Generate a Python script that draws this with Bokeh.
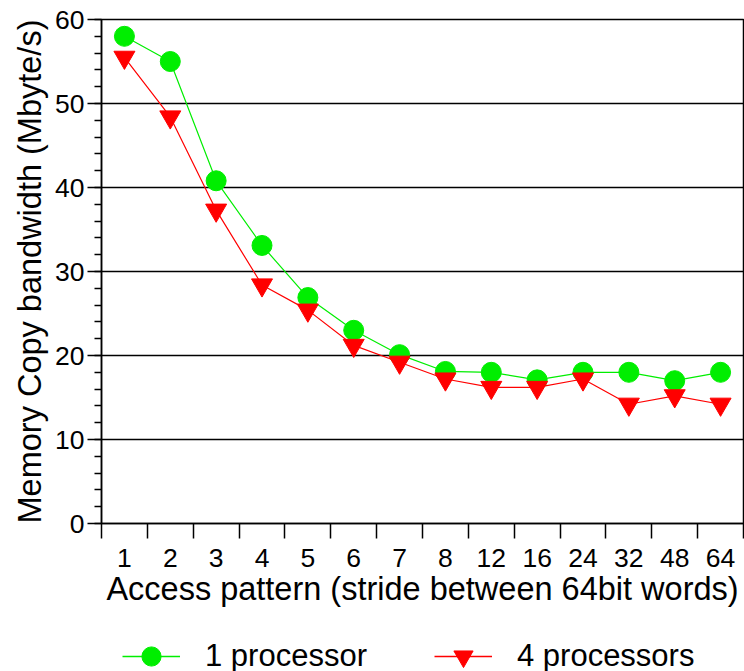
import numpy as np
from bokeh.plotting import figure
from bokeh.layouts import column
from bokeh.models import (Range1d, FixedTicker, SingleIntervalTicker, Legend, LegendItem,
                          ColumnDataSource)
from bokeh.embed import file_html
from bokeh.resources import INLINE

categories = ["1", "2", "3", "4", "5", "6", "7", "8", "12", "16", "24", "32", "48", "64"]
one_processor = [58, 55, 40.8, 33.1, 26.9, 23, 20.1, 18.1, 18, 17.1, 18, 18, 17, 18]
four_processors = [55.5, 48.4, 37.3, 28.4, 25.4, 21.2, 19.2, 17.2, 16.2, 16.2, 17.2, 14.2, 15.2, 14.2]
series_labels = ["1 processor", "4 processors"]
y_ticks_interval = 10

FONT = "Liberation Sans"
GREEN = "#00ee00"
RED = "#ff0000"
xpos = np.arange(len(categories)) + 0.5

H1 = 625
p = figure(width=744, height=H1, output_backend="svg", toolbar_location=None,
           x_range=Range1d(0, len(categories)), y_range=Range1d(0, 60),
           min_border_left=101, min_border_right=1, min_border_top=19,
           min_border_bottom=H1 - 523)
p.background_fill_color = "white"
p.border_fill_color = "white"
p.outline_line_color = "black"
p.outline_line_width = 1.5

# x axis
xa = p.xaxis[0]
xa.ticker = FixedTicker(ticks=list(xpos), minor_ticks=list(range(len(categories) + 1)))
xa.major_label_overrides = {float(x): c for x, c in zip(xpos, categories)}
xa.major_tick_line_color = None
xa.major_tick_out = 15
xa.major_tick_in = 0
xa.minor_tick_line_color = "black"
xa.minor_tick_line_width = 1.5
xa.minor_tick_out = 15
xa.minor_tick_in = 0
xa.major_label_standoff = 10
xa.axis_line_color = "black"
xa.axis_line_width = 1.5
xa.axis_label = "Access pattern (stride between 64bit words)"
xa.axis_label_standoff = 1

# y axis
ya = p.yaxis[0]
ya.ticker = SingleIntervalTicker(interval=y_ticks_interval, num_minor_ticks=5)
ya.major_tick_out = 14
ya.major_tick_in = 0
ya.minor_tick_out = 7
ya.minor_tick_in = 0
ya.major_tick_line_width = 1.5
ya.minor_tick_line_width = 1.5
ya.major_tick_line_color = "black"
ya.minor_tick_line_color = "black"
ya.axis_line_color = "black"
ya.axis_line_width = 1.5
ya.major_label_standoff = 3
ya.axis_label = "Memory Copy bandwidth (Mbyte/s)"
ya.axis_label_standoff = 4

for ax in (xa, ya):
    ax.major_label_text_font = FONT
    ax.major_label_text_font_size = "26.5px"
    ax.major_label_text_color = "black"
    ax.axis_label_text_font = FONT
    ax.axis_label_text_font_size = "32.5px"
    ax.axis_label_text_font_style = "normal"
    ax.axis_label_text_color = "black"

p.xgrid.visible = False
p.ygrid.grid_line_color = "black"
p.ygrid.grid_line_width = 1.5
p.ygrid.ticker = SingleIntervalTicker(interval=y_ticks_interval)

src = ColumnDataSource(dict(x=xpos, one=one_processor, four=four_processors))

p.line("x", "one", source=src, line_color=GREEN, line_width=1.2)
p.scatter("x", "one", source=src, marker="circle", size=20,
          fill_color=GREEN, line_color=GREEN)
p.line("x", "four", source=src, line_color=RED, line_width=1.2)
p.scatter("x", "four", source=src, marker="inverted_triangle", size=21,
          fill_color=RED, line_color=RED)

# legend strip below the chart (proxy renderers sit outside the visible range)
H2 = 671 - H1
lf = figure(width=744, height=H2, output_backend="svg", toolbar_location=None,
            x_range=Range1d(0, 1), y_range=Range1d(0, 1),
            min_border_left=0, min_border_right=0, min_border_top=0, min_border_bottom=0)
lf.axis.visible = False
lf.grid.visible = False
lf.outline_line_color = None
lf.background_fill_color = "white"
lf.border_fill_color = "white"

proxy = ColumnDataSource(dict(x=[-10, -11], y=[-10, -11]))
dl1 = lf.line("x", "y", source=proxy, line_color=GREEN, line_width=1.5)
dm1 = lf.scatter("x", "y", source=proxy, marker="circle", fill_color=GREEN, line_color=GREEN)
dl2 = lf.line("x", "y", source=proxy, line_color=RED, line_width=1.5)
dm2 = lf.scatter("x", "y", source=proxy, marker="inverted_triangle", fill_color=RED, line_color=RED)

legend = Legend(items=[LegendItem(label=series_labels[0], renderers=[dl1, dm1], index=0),
                       LegendItem(label=series_labels[1], renderers=[dl2, dm2], index=0)],
                orientation="horizontal", location=(21, -9))
legend.label_text_font = FONT
legend.label_text_font_size = "31px"
legend.label_text_color = "black"
legend.glyph_width = 58
legend.glyph_height = 48
legend.label_standoff = 25
legend.spacing = 67
legend.padding = 0
legend.margin = 0
legend.border_line_color = None
legend.background_fill_alpha = 0
lf.add_layout(legend, "center")

layout = column(p, lf, spacing=0)
open("out.html", "w").write(file_html(layout, INLINE))
